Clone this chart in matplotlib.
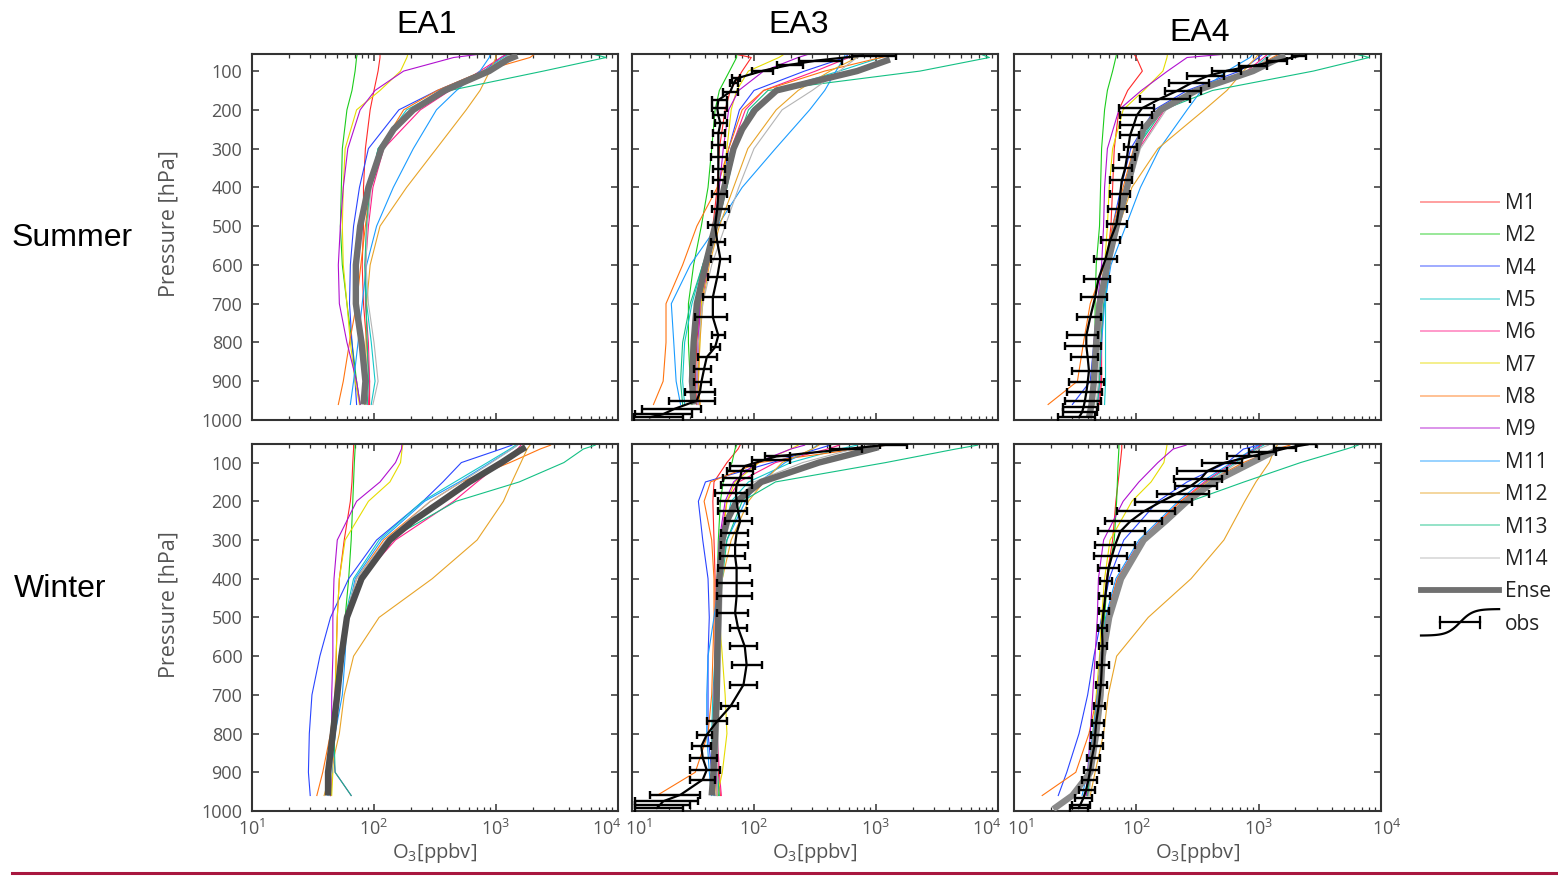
import numpy as np
import matplotlib
matplotlib.use("Agg")
import matplotlib.pyplot as plt
from matplotlib.lines import Line2D
from matplotlib.legend_handler import HandlerBase
from matplotlib.ticker import LogLocator, FixedLocator, NullFormatter
from matplotlib.transforms import ScaledTranslation

plt.rcParams['font.family'] = ['Open Sans', 'DejaVu Sans']
plt.rcParams['mathtext.fontset'] = 'custom'
plt.rcParams['mathtext.rm'] = 'Open Sans'
plt.rcParams['mathtext.it'] = 'Open Sans:italic'

nan = np.nan

# ---------------------------------------------------------------- data
MODELS = ["M1", "M2", "M4", "M5", "M6", "M7", "M8", "M9", "M11", "M12", "M13", "M14"]

# pressure levels [hPa] of the model profiles and of the ensemble mean
P_MOD = [55, 65, 100, 150, 200, 300, 400, 500, 600, 700, 800, 900, 960]
P_ENS = [60, 70, 100, 150, 200, 250, 300, 400, 500, 600, 700, 800, 900, 960, 995]

YTICKS = [100, 200, 300, 400, 500, 600, 700, 800, 900, 1000]
XTICKS = [10, 100, 1000, 10000]
COLUMNS = ["EA1", "EA3", "EA4"]
SEASONS = ["Summer", "Winter"]

# ozone [ppbv] per model
SUMMER_EA1 = {
    "M1":  [112, 112, 108, 100, 93, 85, 82, 82, 80, 82, 87, 92, 92],
    "M2":  [73, 72, 70, 66, 60, 55, 54, 53, 55, 60, 66, 72, 77],
    "M4":  [1250, 1100, 790, 330, 160, 90, 76, 68, 64, 63, 66, 70, 72],
    "M5":  [1300, 1150, 790, 370, 185, 108, 93, 87, 85, 87, 95, 102, 95],
    "M6":  [1250, 1100, 740, 420, 240, 120, 98, 90, 85, 85, 90, 92, 90],
    "M7":  [190, 186, 165, 112, 72, 58, 56, 55, 56, 60, 64, 70, 76],
    "M8":  [2100, 1900, 780, 330, 175, 112, 93, 85, 78, 72, 63, 56, 51],
    "M9":  [800, 450, 175, 102, 77, 61, 56, 53, 51, 52, 60, 72, 77],
    "M11": [900, 880, 740, 475, 325, 210, 144, 105, 87, 80, 74, 68, 64],
    "M12": [1000, 1000, 890, 740, 570, 325, 185, 112, 93, 87, 86, 86, 84],
    "M13": [6000, 8000, 2450, 420, 210, 108, 93, 87, 84, 86, 88, 90, 88],
    "M14": [1300, 1200, 800, 380, 200, 112, 95, 88, 86, 90, 100, 108, 98],
}
SUMMER_EA3 = {
    "M1":  [67, 95, 80, 64, 58, 52, 50, 46, 40, 36, 34, 33, 34],
    "M2":  [72, 72, 63, 52, 48, 45, 42, 37, 32, 29, 29, 30, 31],
    "M4":  [600, 560, 260, 100, 76, 62, 55, 48, 42, 37, 35, 34, 35],
    "M5":  [1200, 1100, 500, 150, 95, 70, 58, 48, 38, 31, 27, 26, 27],
    "M6":  [700, 600, 320, 120, 85, 65, 56, 49, 42, 37, 35, 35, 36],
    "M7":  [180, 160, 90, 72, 65, 60, 55, 48, 41, 37, 36, 35, 36],
    "M8":  [1500, 1100, 380, 120, 80, 62, 50, 34, 26, 19, 19, 18, 15],
    "M9":  [290, 230, 120, 75, 62, 56, 52, 47, 40, 36, 35, 34, 35],
    "M11": [560, 550, 470, 380, 286, 150, 80, 50, 30, 21, 22, 23, 25],
    "M12": [700, 700, 420, 230, 152, 89, 68, 52, 43, 38, 36, 35, 36],
    "M13": [7000, 8500, 2300, 130, 90, 70, 60, 50, 38, 30, 26, 25, 26],
    "M14": [800, 700, 500, 300, 170, 100, 75, 58, 45, 38, 35, 34, 35],
}
SUMMER_EA4 = {
    "M1":  [95, 100, 112, 85, 72, 66, 64, 62, 57, 52, 52, 52, 50],
    "M2":  [69, 68, 64, 58, 55, 52, 51, 50, 47, 46, 46, 46, 45],
    "M4":  [1100, 1000, 700, 260, 140, 90, 75, 64, 56, 50, 45, 42, 30],
    "M5":  [1300, 1150, 850, 300, 155, 100, 85, 70, 60, 56, 56, 56, 55],
    "M6":  [1200, 1100, 800, 330, 170, 105, 86, 71, 60, 54, 52, 51, 49],
    "M7":  [180, 178, 165, 115, 78, 64, 60, 58, 55, 50, 48, 46, 44],
    "M8":  [1500, 1300, 820, 300, 150, 95, 78, 64, 55, 42, 37, 33, 19],
    "M9":  [600, 260, 180, 110, 72, 58, 55, 54, 52, 48, 45, 44, 42],
    "M11": [900, 850, 550, 340, 260, 155, 108, 82, 62, 55, 52, 50, 48],
    "M12": [1000, 950, 750, 550, 360, 150, 92, 72, 60, 52, 48, 46, 44],
    "M13": [6000, 8000, 2800, 420, 165, 100, 84, 70, 60, 54, 51, 50, 48],
    "M14": [1300, 1200, 850, 330, 175, 108, 88, 72, 60, 53, 50, 49, 47],
}
WINTER_EA1 = {
    "M1":  [68, 68, 67, 66, 64, 57, 52, 50, 49, 48, 47, 45, 44],
    "M2":  [70, 70, 69, 68, 67, 65, 62, 58, 53, 50, 47, 45, 44],
    "M4":  [1350, 1100, 520, 367, 252, 105, 62, 44, 36, 31, 29.5, 29, 30],
    "M5":  [1450, 1300, 850, 460, 250, 110, 68, 58, 55, 51, 48, 45, 44],
    "M6":  [1600, 1500, 1100, 700, 450, 150, 78, 58, 52, 50, 47, 45, 44],
    "M7":  [172, 170, 165, 135, 90, 58, 52, 50, 49, 48, 47, 46, 45],
    "M8":  [2800, 2300, 1300, 520, 290, 120, 72, 58, 52, 48, 44, 38, 34],
    "M9":  [169, 168, 150, 112, 72, 50, 47, 46, 46, 45, 45, 48, 65],
    "M11": [1500, 1350, 900, 500, 260, 115, 70, 60, 58, 55, 48, 45, 42],
    "M12": [1900, 1800, 1600, 1350, 1150, 700, 300, 110, 68, 57, 52, 44, 39],
    "M13": [6500, 5200, 3600, 1550, 470, 130, 78, 60, 53, 50, 47, 48, 65],
    "M14": [1500, 1350, 920, 520, 290, 125, 72, 58, 54, 50, 47, 45, 43],
}
WINTER_EA3 = {
    "M1":  [77, 74, 60, 47, 46, 47, 48, 48, 48, 48, 49, 51, 53],
    "M2":  [72, 70, 66, 56, 53, 51, 50, 50, 49, 49, 49, 50, 51],
    "M4":  [420, 330, 140, 40, 35, 38, 42, 43, 42, 42, 42, 45, 48],
    "M5":  [700, 500, 200, 90, 65, 55, 52, 50, 48, 46, 45, 46, 47],
    "M6":  [500, 400, 150, 75, 60, 53, 51, 50, 49, 49, 50, 52, 54],
    "M7":  [230, 200, 110, 70, 60, 55, 53, 52, 55, 58, 60, 55, 50],
    "M8":  [1200, 700, 110, 44, 39, 45, 47, 47, 46, 45, 42, 33, 16],
    "M9":  [260, 200, 105, 68, 58, 52, 50, 49, 48, 47, 48, 49, 50],
    "M11": [330, 300, 180, 110, 85, 60, 52, 47, 42, 41, 41, 43, 45],
    "M12": [340, 300, 170, 120, 90, 65, 55, 52, 50, 49, 48, 48, 49],
    "M13": [6800, 4500, 1200, 150, 80, 60, 55, 52, 50, 52, 50, 50, 52],
    "M14": [900, 650, 250, 100, 70, 58, 55, 54, 53, 52, 51, 50, 50],
}
WINTER_EA4 = {
    "M1":  [76, 76, 74, 71, 68, 64, 57, 54, 52, 48, 45, 42, 40],
    "M2":  [72, 72, 71, 70, 69, 66, 58, 55, 52, 48, 45, 42, 40],
    "M4":  [1000, 750, 553, 260, 150, 79, 60, 52, 45, 40, 34, 27, 23],
    "M5":  [1100, 950, 650, 370, 240, 112, 72, 58, 52, 48, 45, 42, 40],
    "M6":  [1050, 920, 620, 360, 230, 108, 70, 57, 52, 48, 45, 42, 40],
    "M7":  [178, 176, 168, 132, 92, 61, 55, 52, 50, 47, 44, 41, 39],
    "M8":  [1800, 1400, 750, 380, 230, 110, 70, 57, 52, 48, 41, 32, 17],
    "M9":  [255, 200, 150, 105, 78, 54, 49, 48, 46, 44, 42, 40, 39],
    "M11": [1000, 900, 600, 340, 220, 105, 68, 56, 52, 48, 44, 40, 36],
    "M12": [1420, 1350, 1220, 950, 770, 520, 280, 125, 69, 59, 54, 46, 42],
    "M13": [6500, 5200, 2200, 760, 275, 110, 72, 58, 53, 49, 45, 42, 40],
    "M14": [1200, 1000, 680, 390, 250, 118, 74, 59, 53, 49, 46, 43, 41],
}

# ensemble mean on P_ENS
ENS_SUMMER_EA1 = [1500, 1250, 880, 380, 210, 145, 115, 90, 77, 71, 71, 79, 85, 82, nan]
ENS_SUMMER_EA3 = [nan, 1300, 700, 153, 102, 80, 68, 57, 48, 40, 34, 32, 31, 32, nan]
ENS_SUMMER_EA4 = [1650, 1400, 900, 310, 158, 114, 101, 84, 69, 58, 50, 47, 45, 43, 41]
ENS_WINTER_EA1 = [1750, 1550, 1110, 605, 358, 210, 135, 79, 60, 54, 50, 46, 42, 42, nan]
ENS_WINTER_EA3 = [1050, 800, 340, 115, 72, 60, 55, 52, 51, 50, 49.5, 48, 46.5, 45, nan]
ENS_WINTER_EA4 = [nan, 1350, 880, 430, 260, 175, 115, 75, 60, 53, 51, 47, 42, 30, 21]

# ozonesonde observations: pressure, mean and range [ppbv]
OBS_SUMMER_EA3 = dict(
    p=[60, 73, 84, 99, 119, 132, 153, 175, 196, 214, 235, 261, 291, 321, 352, 382, 416,
       455, 498, 541, 584, 631, 683, 735, 782, 812, 838, 868, 903, 929, 950, 972, 985, 993],
    mean=[780, 324, 196, 119, 72, 68, 64, 51, 50, 51, 53, 51, 51, 51, 51, 51, 51,
          50, 48, 50, 53, 50, 46, 46, 51, 48, 41, 39, 37, 36, 34, 22, 18, 14],
    lo=[634, 232, 153, 96, 66, 64, 56, 45, 45, 46, 48, 46, 45, 44, 46, 46, 45,
        45, 42, 44, 44, 42, 38, 33, 45, 44, 35, 32, 32, 27, 20, 12, 10.6, 10.3],
    hi=[1454, 524, 252, 144, 77, 74, 74, 60, 60, 58, 60, 58, 58, 60, 58, 58, 60,
        62, 58, 58, 64, 58, 58, 60, 58, 53, 50, 44, 44, 48, 48, 37, 31, 26],
)
OBS_SUMMER_EA4 = dict(
    p=[61, 74, 86, 99, 113, 132, 151, 171, 196, 214, 240, 265, 296, 321, 351, 382, 416,
       455, 494, 537, 585, 636, 684, 735, 782, 808, 838, 873, 903, 929, 950, 967, 980, 993],
    mean=[2140, 1420, 915, 553, 380, 277, 215, 157, 111, 101, 95, 89, 86, 84, 81, 76, 74,
          72, 69, 61, 56, 49, 46, 42, 39, 39, 40, 41, 40, 39, 38, 37, 36, 34],
    lo=[1890, 1180, 690, 417, 260, 184, 173, 108, 72, 74, 74, 74, 79, 72, 65, 61, 61,
        59, 57.5, 51, 45, 37, 35, 33, 27, 26, 29, 30, 28, 27, 26, 25, 25, 23],
    hi=[2430, 1720, 1180, 711, 520, 392, 335, 277, 139, 134, 111, 105, 101, 98, 92, 92, 89,
        84, 84, 74, 69, 61, 57.5, 51, 49, 51, 49, 51, 54, 52, 51, 49, 48, 46],
)
OBS_WINTER_EA3 = dict(
    p=[54, 66, 84, 94, 109, 122, 140, 157, 178, 200, 226, 252, 282, 312, 342, 372, 411,
       445, 488, 527, 575, 622, 674, 730, 768, 803, 833, 863, 894, 919, 958, 975, 984, 992],
    mean=[1220, 534, 153, 119, 84, 79, 77, 72, 71, 72, 74, 77, 72, 70, 70, 72, 72,
          72, 70, 74, 84, 87, 82, 64, 50, 41, 37, 38, 41, 38, 25, 18, 17, 16],
    lo=[1080, 416, 123, 96, 64, 60, 56, 54, 48, 51, 51, 58, 54, 54, 53, 51, 50,
        50, 50, 64, 64, 66, 64, 54, 41, 34, 31, 30, 30, 30, 14, 10.6, 10.6, 10.6],
    hi=[1790, 762, 196, 196, 102, 99, 96, 96, 87, 87, 87, 96, 90, 90, 84, 93, 96,
        96, 90, 87, 105, 116, 105, 74, 60, 45, 44, 50, 53, 48, 36, 35, 30, 26],
)
OBS_WINTER_EA4 = dict(
    p=[53, 62, 73, 84, 101, 122, 142, 161, 180, 202, 226, 252, 278, 312, 342, 372, 407,
       445, 484, 527, 575, 622, 674, 730, 773, 803, 833, 863, 893, 919, 945, 966, 984, 992],
    mean=[2506, 1718, 1255, 860, 520, 380, 335, 277, 215, 157, 115, 89, 74, 67.3, 63.1, 59.3, 57.5,
          55.7, 54, 52.3, 53, 52.3, 51.3, 49.1, 46.9, 46.1, 45.3, 43.3, 42, 40.6, 38.9, 37, 34.8, 33.7],
    lo=[2010, 1336, 833, 553, 345, 215, 202, 208, 148, 98, 69.4, 55.7, 48.2, 46.1, 44.7, 48.2, 50,
        49.1, 49.1, 48.2, 49.1, 47.6, 46.9, 44.7, 43.3, 42.8, 42, 39.4, 37.5, 35.9, 33.7, 31.7, 29.7, 28.8],
    hi=[2930, 2010, 1378, 1007, 735, 553, 503, 458, 392, 286, 208, 162, 118, 98, 84, 71.6, 63.1,
        61.2, 59.3, 58.1, 58.1, 59.3, 58.1, 55.7, 54, 53.3, 53.3, 50, 49.1, 47.6, 46.1, 43.3, 42, 40.6],
)

# ---------------------------------------------------------------- style
COLORS = {
    "M1": "#ff2a2a", "M2": "#1ccc1c", "M4": "#2a45ff", "M5": "#14c8c8",
    "M6": "#ff1f8a", "M7": "#e6dc00", "M8": "#ff7410", "M9": "#b010d0",
    "M11": "#1a9cff", "M12": "#e8a428", "M13": "#14c084", "M14": "#b4b4b4",
}
W, H = 1558, 876
COL_X = [(252, 366), (632, 366), (1014, 367)]
ROW_Y = [(54, 420, 56), (444, 811, 52)]          # top px, bottom px, top pressure
YLABEL_POS = [0.538, 0.562]
ENS_COLORS = [["#707070", "#6c6c6c", "#7e7e7e"], ["#4e4e4e", "#6a6a6a", "#8a8a8a"]]
TICK_GREY = "#555555"
FRAME = "#333333"

panels = [
    [(SUMMER_EA1, ENS_SUMMER_EA1, None), (SUMMER_EA3, ENS_SUMMER_EA3, OBS_SUMMER_EA3),
     (SUMMER_EA4, ENS_SUMMER_EA4, OBS_SUMMER_EA4)],
    [(WINTER_EA1, ENS_WINTER_EA1, None), (WINTER_EA3, ENS_WINTER_EA3, OBS_WINTER_EA3),
     (WINTER_EA4, ENS_WINTER_EA4, OBS_WINTER_EA4)],
]

fig = plt.figure(figsize=(W / 100, H / 100), dpi=100)
bottom_axes = []

for r in range(2):
    top, bot, ptop = ROW_Y[r]
    for c in range(3):
        left, wid = COL_X[c]
        ax = fig.add_axes([left / W, 1 - bot / H, wid / W, (bot - top) / H])
        models, ens, obs = panels[r][c]
        for name in MODELS:
            ax.plot(models[name], P_MOD, color=COLORS[name], lw=0.8, zorder=2)
        ax.plot(ens, P_ENS, color=ENS_COLORS[r][c], lw=4.6, zorder=3,
                solid_capstyle="butt")
        if obs is not None:
            mean = np.array(obs["mean"], float)
            xerr = [mean - np.array(obs["lo"], float), np.array(obs["hi"], float) - mean]
            ax.errorbar(mean, obs["p"], xerr=xerr, color="black", lw=1.6,
                        elinewidth=1.7, capsize=2.6, capthick=1.7, zorder=4)

        ax.set_xscale("log")
        ax.set_xlim(10, 1e4)
        ax.set_ylim(1000, ptop)
        ax.xaxis.set_major_locator(FixedLocator(XTICKS))
        ax.xaxis.set_minor_locator(LogLocator(base=10, subs=np.arange(2, 10), numticks=20))
        ax.xaxis.set_minor_formatter(NullFormatter())
        ax.yaxis.set_major_locator(FixedLocator(YTICKS))
        ax.tick_params(which="both", direction="in", top=True, right=True,
                       color=FRAME, labelcolor=TICK_GREY, labelsize=13)
        ax.tick_params(which="major", length=5, width=1.1)
        ax.tick_params(which="minor", length=2.6, width=0.9)
        ax.tick_params(axis="y", pad=7)
        ax.tick_params(axis="x", pad=6)
        for s in ax.spines.values():
            s.set_color(FRAME)
            s.set_linewidth(1.5)
        if c == 0:
            ax.set_yticklabels([str(v) for v in YTICKS])
            ax.set_ylabel("Pressure [hPa]", fontsize=15.5, color=TICK_GREY)
            ax.yaxis.set_label_coords(-0.197, YLABEL_POS[r])
        else:
            ax.set_yticklabels([])
        if r == 1:
            ax.set_xticklabels([f"$10^{{{int(np.log10(v))}}}$" for v in XTICKS])
            ax.set_xlabel("O$_3$[ppbv]", fontsize=14.5, color=TICK_GREY, labelpad=1)
            bottom_axes.append(ax)
        else:
            ax.set_xticklabels([])

# column and row headings
for name, (x, y) in zip(COLUMNS, [(427, 25), (799, 25), (1200, 33)]):
    fig.text(x / W, 1 - y / H, name, ha="center", va="center", fontsize=23,
             family=["Liberation Sans", "DejaVu Sans"], color="black")
for name, (x, y) in zip(SEASONS, [(12, 238), (14, 589)]):
    fig.text(x / W, 1 - y / H, name, ha="left", va="center", fontsize=23,
             family=["Liberation Sans", "DejaVu Sans"], color="black")


# legend
class ObsHandler(HandlerBase):
    def create_artists(self, legend, orig_handle, xdescent, ydescent, width, height,
                       fontsize, trans):
        x0, y0 = -xdescent, -ydescent
        yc = y0 + height / 2
        t = np.linspace(0, 1, 60)
        curve = Line2D(x0 + t * width, yc + 9.5 * np.tanh((t - 0.5) * 6) / np.tanh(3),
                       color="black", lw=1.6, transform=trans)
        bar = Line2D([x0 + 0.24 * width, x0 + 0.76 * width], [yc, yc],
                     color="black", lw=1.6, transform=trans)
        cap1 = Line2D([x0 + 0.24 * width] * 2, [yc - 4, yc + 4], color="black", lw=1.6,
                      transform=trans)
        cap2 = Line2D([x0 + 0.76 * width] * 2, [yc - 4, yc + 4], color="black", lw=1.6,
                      transform=trans)
        return [curve, bar, cap1, cap2]


handles = [Line2D([], [], color=COLORS[m], lw=1.4, alpha=0.45) for m in MODELS]
handles.append(Line2D([], [], color="#707070", lw=4.2))
obs_handle = Line2D([], [], color="black")
handles.append(obs_handle)
labels = MODELS + ["Ense", "obs"]
fig.legend(handles, labels, loc="upper left", bbox_to_anchor=(1421 / W, 1 - 193 / H),
           frameon=False, fontsize=15, handlelength=3.75, handletextpad=0.28,
           labelspacing=0.545, borderpad=0, borderaxespad=0,
           handler_map={obs_handle: ObsHandler()}, labelcolor="#222222")

# bottom rule
fig.add_artist(Line2D([12 / W, 1.0], [1 - 873 / H] * 2, color="#a8173f", lw=2.2))

# nudge the x tick labels that meet at the panel joins
SHIFT_FIRST = [0, 7, 7]
SHIFT_LAST = [-11, -11, 6]
for c, ax in enumerate(bottom_axes):
    labs = ax.get_xticklabels()
    for lab, dx in ((labs[0], SHIFT_FIRST[c]), (labs[-1], SHIFT_LAST[c])):
        lab.set_transform(lab.get_transform() +
                          ScaledTranslation(dx / 100, 0, fig.dpi_scale_trans))

fig.savefig("out.png", dpi=100, facecolor="white")
